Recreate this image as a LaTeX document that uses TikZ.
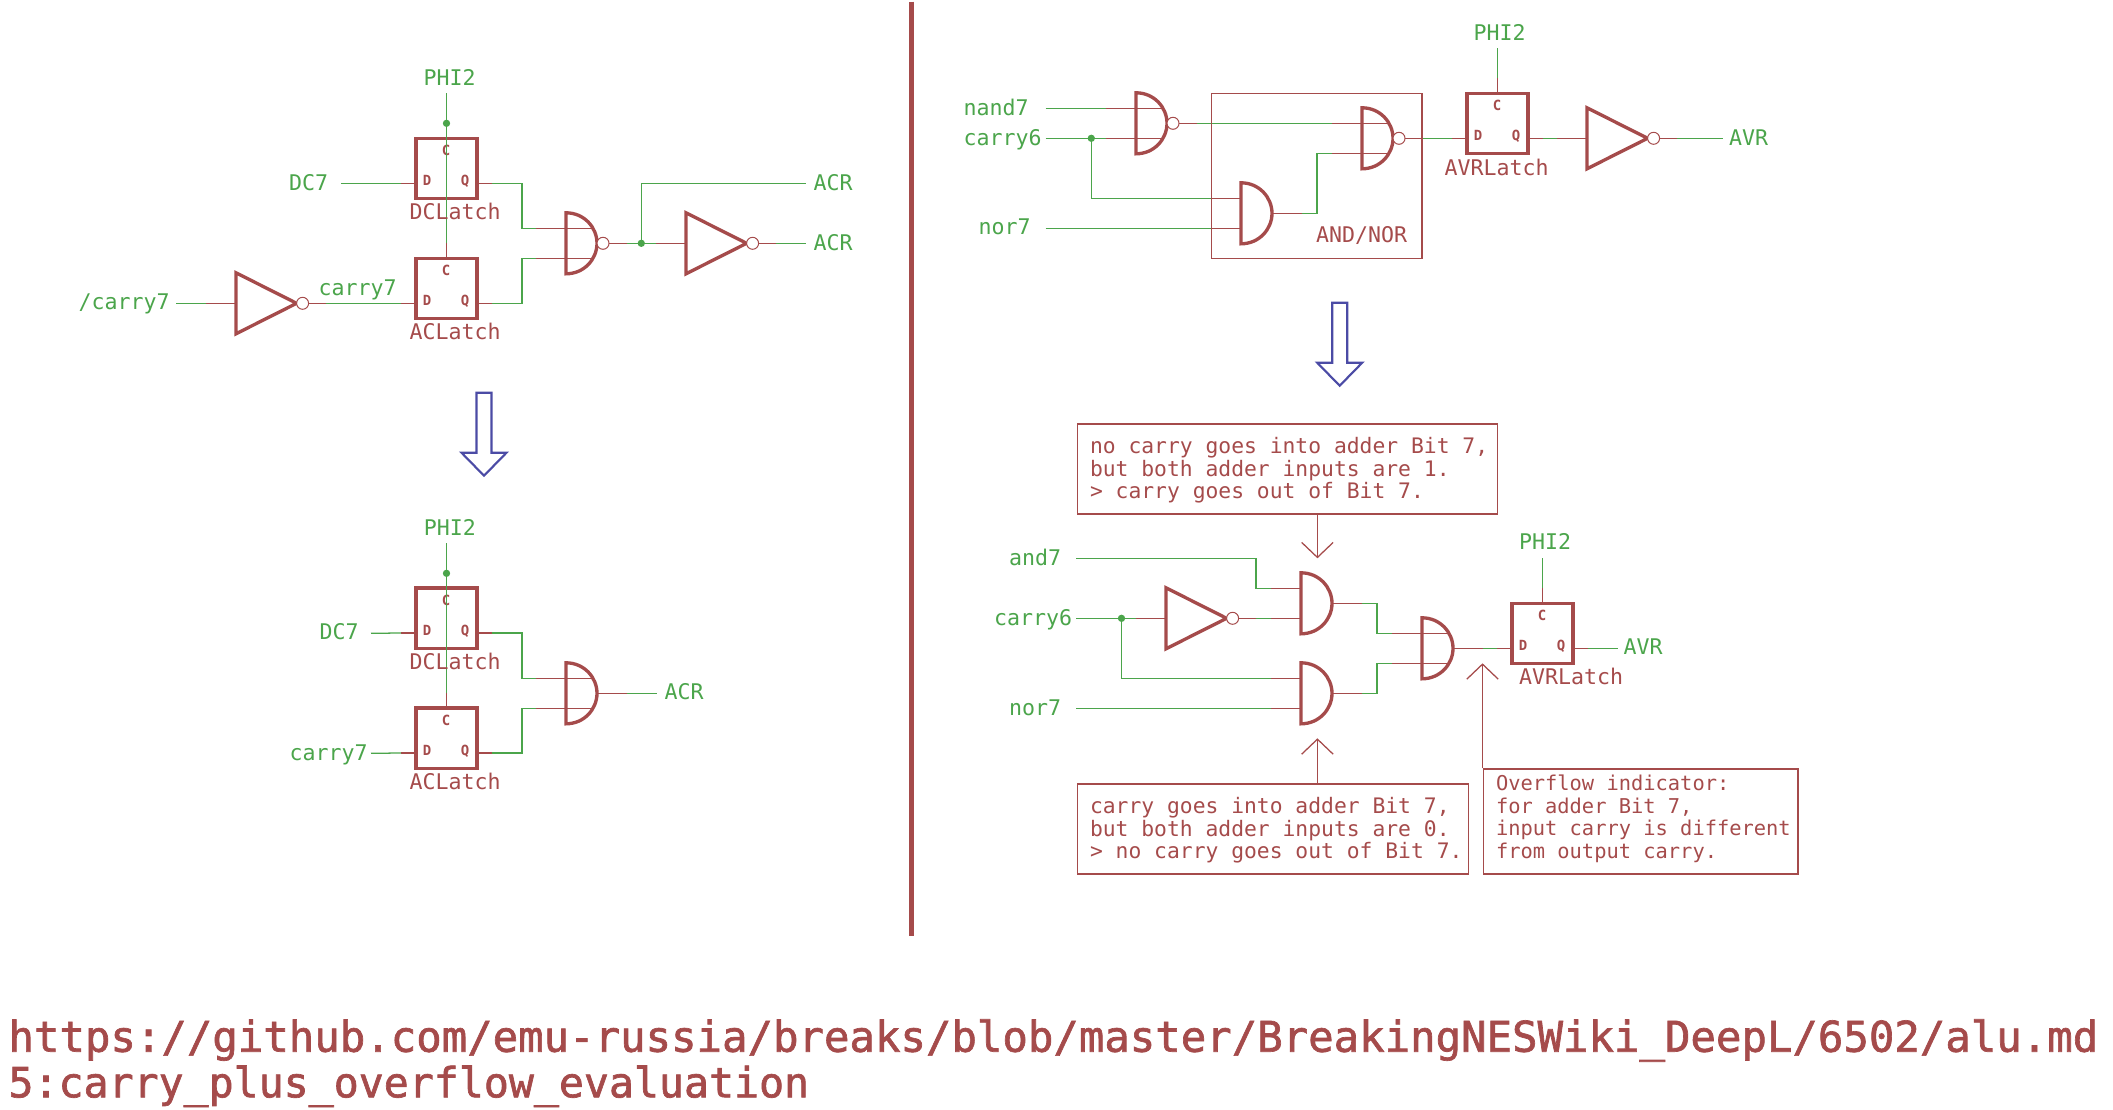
\documentclass[tikz,border=0pt]{standalone}
\usepackage{fontspec}
\setmainfont{DejaVu Sans Mono}
\newfontfamily\urlface[FakeBold=1.6]{DejaVu Sans Mono}
\usetikzlibrary{arrows.meta}

\definecolor{schred}{RGB}{165,75,75}
\definecolor{schgreen}{RGB}{75,165,75}
\definecolor{schblue}{RGB}{75,75,165}

\tikzset{
  every picture/.style={line width=0.75pt},
  wire/.style={draw=schgreen,line width=0.95pt},
  stub/.style={draw=schred,line width=0.95pt},
  body/.style={draw=schred,line width=2.5pt,line join=miter},
  bubble/.style={draw=schred,line width=0.75pt,fill=white},
  junction/.style={circle,fill=schgreen,inner sep=0pt,minimum size=5.5pt},
  netlabel/.style={anchor=base west,inner sep=0pt,text=schgreen,font=\fontsize{16.2}{20}\selectfont},
  partlabel/.style={anchor=base west,inner sep=0pt,text=schred,font=\fontsize{16.2}{20}\selectfont},
  pinlabel/.style={anchor=base,inner sep=0pt,text=schred,font=\bfseries\fontsize{10.5}{12}\selectfont},
  urllabel/.style={anchor=base west,inner sep=0pt,text=schred,font=\urlface\fontsize{31.75}{36}\selectfont},
  notebox/.style={draw=schred,line width=0.95pt,anchor=north west,inner sep=0pt},
  notetext/.style={anchor=west,inner sep=0pt,align=left,text=schred,font=\fontsize{16}{16.9}\selectfont},
  pointer/.style={draw=schred,line width=0.95pt,-{Straight Barb[length=11.25pt,width=23.6pt]}},
  % the gate bodies, origin at the middle of the left side; y runs upward inside a pic
  pics/andgate/.style={code={
    \draw[stub] (-30,-15) -- (#1,-15) (-30,15) -- (#1,15) (31,0) -- (61,0);
    \draw[body] (0,-30.5) .. controls (18,-30.5) and (31,-16) .. (31,0) .. controls (31,16) and (18,30.5) .. (0,30.5) -- cycle;
    \coordinate (-a) at (-30,15); \coordinate (-b) at (-30,-15); \coordinate (-o) at (61,0);
  }},
  pics/nandgate/.style={code={
    \draw[stub] (-30,-15) -- (#1,-15) (-30,15) -- (#1,15) (43,0) -- (61,0);
    \draw[body] (0,-30.5) .. controls (18,-30.5) and (31,-16) .. (31,0) .. controls (31,16) and (18,30.5) .. (0,30.5) -- cycle;
    \draw[bubble] (37,0) circle (6);
    \coordinate (-a) at (-30,15); \coordinate (-b) at (-30,-15); \coordinate (-o) at (61,0);
  }},
  pics/inverter/.style={code={
    \draw[stub] (-30,0) -- (0,0) (72.6,0) -- (90,0);
    \draw[body] (0,-30.5) -- (60.6,0) -- (0,30.5) -- cycle;
    \draw[bubble] (66.6,0) circle (6);
    \coordinate (-i) at (-30,0); \coordinate (-o) at (90,0);
  }},
  % origin at the top left corner of the box
  pics/latch/.style={code={
    \draw[stub] (-15,-45) -- (0,-45) (61,-45) -- (76,-45) (30.5,15) -- (30.5,0);
    \draw[body] (0,0) rectangle (61,-60.5);
    \node[pinlabel] (-cn) at (30,-17) {C};
    \node[pinlabel] (-dn) at (11,-47) {D};
    \node[pinlabel] (-qn) at (49,-47) {Q};
    \coordinate (-c) at (30.5,15); \coordinate (-d) at (-15,-45); \coordinate (-q) at (76,-45);
  }},
  pics/blockdown/.style={code={
    \draw[draw=schblue,line width=1.6pt,line join=miter] (-7.5,0) -- (-7.5,-60) -- (-22.5,-60) -- (0,-83) -- (22.5,-60) -- (7.5,-60) -- (7.5,0) -- cycle;
  }},
}

\begin{document}
\begin{tikzpicture}[x=0.75pt,y=0.75pt,yscale=-1,xscale=1]
  \useasboundingbox (0,0) rectangle (2113,1110);

  %Separator
  \draw [draw=schred,line width=3.75pt] (911.5,1.5) -- (911.5,936);

  %Top left: parts
  \pic (dcl) at (416,138.3) {latch};
  \pic (acl) at (416,258.3) {latch};
  \pic (inva) at (236,303.3) {inverter};
  \pic (nanda) at (566,243.3) {nandgate=26};
  \pic (invb) at (686,243.3) {inverter};
  %Top left: free wire ends
  \coordinate (phia) at (446.5,93.3);
  \coordinate (dca) at (341,183.3);
  \coordinate (cyna) at (176,303.3);
  \coordinate (acra) at (806,183.3);
  \coordinate (acrb) at (806,243.3);
  \node[junction] (jclka) at (446.5,123.3) {};
  \node[junction] (jacr) at (641.3,243.3) {};
  %Top left: wires
  \draw[wire] (phia) -- (acl-c);
  \draw[wire] (dca) -- (dcl-d);
  \draw[wire] (cyna) -- (inva-i);
  \draw[wire] (inva-o) -- (acl-d);
  \draw[wire] (dcl-q) -- ++(30,0) |- (nanda-a);
  \draw[wire] (acl-q) -- ++(30,0) |- (nanda-b);
  \draw[wire] (nanda-o) -- (jacr.center) -- (invb-i);
  \draw[wire] (jacr.center) |- (acra);
  \draw[wire] (invb-o) -- (acrb);
  %Top left: text
  \node[netlabel] (lphia) at (423,85) {PHI2};
  \node[netlabel] (ldca) at (288.5,190.7) {DC7};
  \node[netlabel] (lcya) at (318,295) {carry7};
  \node[netlabel] (lcyna) at (78,309.3) {/carry7};
  \node[netlabel] (lacra) at (813,190.7) {ACR};
  \node[netlabel] (lacrb) at (813,250) {ACR};
  \node[partlabel] (ldcl) at (409,219.3) {DCLatch};
  \node[partlabel] (lacl) at (409,339.3) {ACLatch};

  %Arrow
  \pic (dira) at (484,392.7) {blockdown};

  %Bottom left: parts
  \pic (dclb) at (416,588) {latch};
  \pic (aclb) at (416,708) {latch};
  \pic (andb) at (566,693.3) {andgate=26};
  \coordinate (phib) at (446.5,543.3);
  \coordinate (dcb) at (371,633.3);
  \coordinate (cyb) at (371,753.3);
  \coordinate (acrc) at (656.7,693.3);
  \node[junction] (jclkb) at (446.5,573.3) {};
  %Bottom left: wires
  \draw[wire] (phib) -- (aclb-c);
  \draw[wire] (dcb) -- (dclb-d);
  \draw[wire] (cyb) -- (aclb-d);
  \draw[wire] (dclb-q) -- ++(30,0) |- (andb-a);
  \draw[wire] (aclb-q) -- ++(30,0) |- (andb-b);
  \draw[wire] (andb-o) -- (acrc);
  %Bottom left: text
  \node[netlabel] (lphib) at (423.3,535) {PHI2};
  \node[netlabel] (ldcb) at (319,639.3) {DC7};
  \node[netlabel] (lcyb) at (289,760) {carry7};
  \node[netlabel] (lacrc) at (664,699.3) {ACR};
  \node[partlabel] (ldclb) at (409,669.3) {DCLatch};
  \node[partlabel] (laclb) at (409,789.3) {ACLatch};

  %Top right: parts
  \pic (nandc) at (1136,123.3) {nandgate=27};
  \pic (nandd) at (1362,138.3) {nandgate=27};
  \pic (andc) at (1241,213.3) {andgate=0};
  \pic (avl) at (1467,93.3) {latch};
  \pic (invc) at (1587,138.3) {inverter};
  \coordinate (nanin) at (1045.7,108.3);
  \coordinate (cyc) at (1045.7,138.3);
  \coordinate (norc) at (1045.7,228.3);
  \coordinate (phic) at (1497.5,48.3);
  \coordinate (avra) at (1722.6,138.3);
  \node[junction] (jcyc) at (1091.3,138.3) {};
  %Top right: wires
  \draw[wire] (nanin) -- (nandc-a);
  \draw[wire] (cyc) -- (nandc-b);
  \draw[wire] (jcyc.center) |- (andc-a);
  \draw[wire] (norc) -- (andc-b);
  \draw[wire] (nandc-o) -- (nandd-a);
  \draw[wire] (andc-o) -- ++(15,0) |- (nandd-b);
  \draw[wire] (nandd-o) -- (avl-d);
  \draw[wire] (phic) -- (avl-c);
  \draw[wire] (avl-q) -- (invc-i);
  \draw[wire] (invc-o) -- (avra);
  %Shape: AND/NOR group
  \draw[stub] (1211.4,93.3) rectangle (1422,258.3);
  %Top right: text
  \node[netlabel] (lnanc) at (963,115) {nand7};
  \node[netlabel] (lcyc) at (963,145) {carry6};
  \node[netlabel] (lnorc) at (978,234) {nor7};
  \node[netlabel] (lphic) at (1473,40) {PHI2};
  \node[netlabel] (lavra) at (1728.7,145.7) {AVR};
  \node[partlabel] (lavl) at (1444,175.7) {AVRLatch};
  \node[partlabel] (lgrp) at (1315.6,242) {AND/NOR};

  %Arrow
  \pic (dirb) at (1339.7,302.7) {blockdown};

  %Bottom right: parts
  \pic (ande) at (1301,603.3) {andgate=0};
  \pic (andf) at (1301,693.3) {andgate=0};
  \pic (andg) at (1422,648.3) {andgate=25};
  \pic (invd) at (1166,618.3) {inverter};
  \pic (avlb) at (1512,603.3) {latch};
  \coordinate (andin) at (1076,558.3);
  \coordinate (cyd) at (1076,618.3);
  \coordinate (nord) at (1076,708.3);
  \coordinate (phid) at (1542.5,558.3);
  \coordinate (avrb) at (1618,648.3);
  \node[junction] (jcyd) at (1121.5,618.3) {};
  %Bottom right: wires
  \draw[wire] (andin) -- ++(180,0) |- (ande-a);
  \draw[wire] (cyd) -- (invd-i);
  \draw[wire] (invd-o) -- (ande-b);
  \draw[wire] (jcyd.center) |- (andf-a);
  \draw[wire] (nord) -- (andf-b);
  \draw[wire] (ande-o) -- ++(15,0) |- (andg-a);
  \draw[wire] (andf-o) -- ++(15,0) |- (andg-b);
  \draw[wire] (andg-o) -- (avlb-d);
  \draw[wire] (phid) -- (avlb-c);
  \draw[wire] (avlb-q) -- (avrb);
  %Bottom right: text
  \node[netlabel] (land) at (1008.5,565) {and7};
  \node[netlabel] (lcyd) at (993.7,625) {carry6};
  \node[netlabel] (lnord) at (1008.5,715) {nor7};
  \node[netlabel] (lphid) at (1518.7,549.3) {PHI2};
  \node[netlabel] (lavrb) at (1623,654.3) {AVR};
  \node[partlabel] (lavlb) at (1518.7,684.3) {AVRLatch};

  %Notes
  \node[notebox,minimum width=315.4pt,minimum height=67.5pt] (notea) at (1076.5,423.3) {};
  \node[notebox,minimum width=293.4pt,minimum height=67.5pt] (noteb) at (1076.5,783.3) {};
  \node[notebox,minimum width=236.1pt,minimum height=78.75pt] (notec) at (1482.5,768.3) {};
  \node[notetext] (ltexta) at ([xshift=9.75pt,yshift=1pt]notea.west) {no carry goes into adder Bit 7,\\but both adder inputs are 1.\\> carry goes out of Bit 7.};
  \node[notetext] (ltextb) at ([xshift=9.75pt,yshift=1pt]noteb.west) {carry goes into adder Bit 7,\\but both adder inputs are 0.\\> no carry goes out of Bit 7.};
  \node[notetext,font=\fontsize{15.3}{16.9}\selectfont] (ltextc) at ([xshift=9.75pt,yshift=-2pt]notec.west) {Overflow indicator:\\for adder Bit 7,\\input carry is different\\from output carry.};
  \coordinate (tipa) at (1317.4,558.3);
  \coordinate (tipb) at (1317.4,738.3);
  \coordinate (tipc) at (1482.5,663.3);
  \draw[pointer] (tipa |- notea.south) -- (tipa);
  \draw[pointer] (tipb |- noteb.north) -- (tipb);
  \draw[pointer] (notec.north west) -- (tipc);

  %Link text
  \node[urllabel] (urla) at (8,1051.7) {https://github.com/emu-russia/breaks/blob/master/BreakingNESWiki\_DeepL/6502/alu.md};
  \node[urllabel,font=\urlface\fontsize{31.17}{36}\selectfont] (urlb) at (8,1097.3) {5:carry\_plus\_overflow\_evaluation};
\end{tikzpicture}
\end{document}
